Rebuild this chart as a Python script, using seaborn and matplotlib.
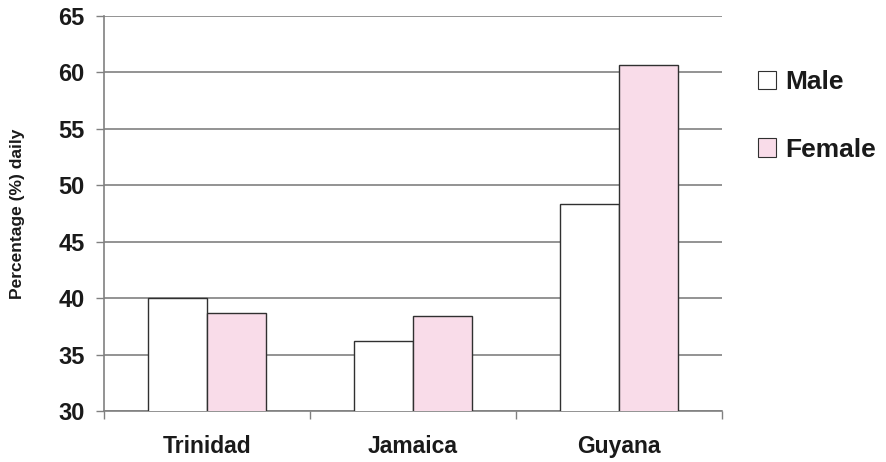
import matplotlib
matplotlib.use("Agg")
import matplotlib.pyplot as plt
import seaborn as sns
import pandas as pd
from matplotlib.patches import Patch

# Daily percentages by country and sex
countries = ["Trinidad", "Jamaica", "Guyana"]
male = [40.0, 36.2, 48.3]
female = [38.7, 38.4, 60.7]
yticks = [30, 35, 40, 45, 50, 55, 60, 65]

df = pd.DataFrame({
    "country": countries * 2,
    "sex": ["Male"] * len(countries) + ["Female"] * len(countries),
    "value": male + female,
})

sns.set_style("white")
plt.rcParams["font.family"] = ["Liberation Sans", "DejaVu Sans"]

fig = plt.figure(figsize=(8.86, 4.62), dpi=100)
ax = fig.add_axes([0.1174, 0.1104, 0.6976, 0.855])

palette = {"Male": "#FFFFFF", "Female": "#F9DCE9"}
sns.barplot(data=df, x="country", y="value", hue="sex", order=countries,
            hue_order=["Male", "Female"], palette=palette, width=0.57,
            edgecolor="#303030", linewidth=1.0, saturation=1, ax=ax,
            legend=False, zorder=3)

ax.set_ylim(30, 65)
ax.set_xlim(-0.5, 2.5)
ax.set_yticks(yticks)
ax.set_yticklabels([str(t) for t in yticks], fontsize=17, fontweight="bold",
                   color="#1a1a1a")
ax.yaxis.grid(True, color="#808080", linewidth=1.2, zorder=0)
ax.set_axisbelow(True)

# category boundary ticks, labels centred on the groups
ax.set_xticks([-0.5, 0.5, 1.5, 2.5])
ax.set_xticklabels([])
ax.set_xticks(range(len(countries)), minor=True)
ax.set_xticklabels(countries, minor=True, fontsize=16.5, fontweight="bold",
                   color="#1a1a1a")
ax.tick_params(axis="x", which="minor", length=0, pad=17)
ax.tick_params(axis="x", which="major", length=6, color="#808080", width=1)
ax.tick_params(axis="y", length=6, color="#808080", width=1, pad=8, direction="out")
ax.tick_params(axis="y", left=True)
ax.tick_params(axis="x", bottom=True)

ax.set_xlabel("")
ax.set_ylabel("Percentage (%) daily", fontsize=12.5, fontweight="bold",
              labelpad=24, color="#1a1a1a")

for side in ["top", "right"]:
    ax.spines[side].set_visible(False)
for side in ["left", "bottom"]:
    ax.spines[side].set_color("#808080")
    ax.spines[side].set_linewidth(1.2)

# legend outside on the right
handles = [Patch(facecolor=palette["Male"], edgecolor="#303030", linewidth=0.8, label="Male"),
           Patch(facecolor=palette["Female"], edgecolor="#303030", linewidth=0.8, label="Female")]
leg = fig.legend(handles=handles, loc="upper left", bbox_to_anchor=(0.835, 0.888),
                 frameon=False, prop={"size": 19, "weight": "bold"},
                 handlelength=0.68, handleheight=0.68, handletextpad=0.34,
                 labelspacing=1.65, borderpad=0.2)
for t in leg.get_texts():
    t.set_color("#1a1a1a")

fig.savefig("out.png", dpi=100)
